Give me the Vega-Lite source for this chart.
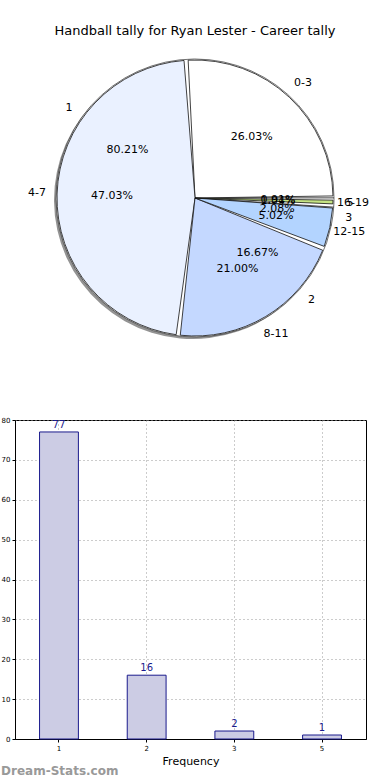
{
  "$schema": "https://vega.github.io/schema/vega-lite/v6.json",
  "background": "white",
  "padding": {"top": 25, "left": 0, "right": 0, "bottom": 0},
  "config": {"font": "DejaVu Sans", "view": {"stroke": null}},
  "datasets": {
    "ranges": [
      {"i": 0, "label": "0-3", "share": 0.2603},
      {"i": 1, "label": "4-7", "share": 0.4703},
      {"i": 2, "label": "8-11", "share": 0.2100},
      {"i": 3, "label": "12-15", "share": 0.0502},
      {"i": 4, "label": "16-19", "share": 0.0091}
    ],
    "freqs": [
      {"i": 0, "label": "1", "share": 0.8021},
      {"i": 1, "label": "2", "share": 0.1667},
      {"i": 2, "label": "3", "share": 0.0208},
      {"i": 3, "label": "5", "share": 0.0104}
    ],
    "bars": [
      {"freq": "1", "count": 77},
      {"freq": "2", "count": 16},
      {"freq": "3", "count": 2},
      {"freq": "5", "count": 1}
    ]
  },
  "spacing": 67,
  "vconcat": [
    {
      "width": 360,
      "height": 300,
      "title": {"text": "Handball tally for Ryan Lester - Career tally", "fontSize": 13, "fontWeight": "normal", "color": "black", "anchor": "middle", "offset": 10},
      "view": {"stroke": null},
      "encoding": {
        "theta": {"field": "share", "type": "quantitative", "stack": true, "scale": {"range": [1.5708, -4.7124]}},
        "order": {"field": "i", "type": "quantitative"}
      },
      "layer": [
        {
          "data": {"name": "freqs"},
          "mark": {"type": "arc", "outerRadius": 139, "fill": "#808080", "opacity": 0.85, "xOffset": -2, "yOffset": 2}
        },
        {
          "data": {"name": "freqs"},
          "mark": {"type": "arc", "outerRadius": 139, "fill": "white", "stroke": "#333333", "strokeWidth": 0.7}
        },
        {
          "data": {"name": "ranges"},
          "mark": {"type": "arc", "outerRadius": 138, "padAngle": 0.03, "stroke": "#111111", "strokeWidth": 0.8},
          "encoding": {"color": {"field": "label", "type": "nominal", "legend": null,
            "scale": {"domain": ["0-3", "4-7", "8-11", "12-15", "16-19"],
                      "range": ["#ffffff", "#eaf1ff", "#c4d8ff", "#b3d4ff", "#c5e384"]}}}
        },
        {
          "data": {"name": "freqs"},
          "mark": {"type": "text", "radius": 155, "fontSize": 11, "color": "black"},
          "encoding": {"text": {"field": "label", "type": "nominal"}}
        },
        {
          "data": {"name": "ranges"},
          "mark": {"type": "text", "radius": 158, "fontSize": 11, "color": "black"},
          "encoding": {"text": {"field": "label", "type": "nominal"}}
        },
        {
          "data": {"name": "freqs"},
          "mark": {"type": "text", "radius": 83, "fontSize": 11, "color": "black"},
          "encoding": {"text": {"field": "share", "type": "quantitative", "format": ".2%"}}
        },
        {
          "data": {"name": "ranges"},
          "mark": {"type": "text", "radius": 83, "fontSize": 11, "color": "black"},
          "encoding": {"text": {"field": "share", "type": "quantitative", "format": ".2%"}}
        }
      ]
    },
    {
      "width": 351,
      "height": 319,
      "data": {"name": "bars"},
      "view": {"stroke": "black", "strokeWidth": 1},
      "title": {"text": "Dream-Stats.com", "orient": "bottom", "anchor": "start", "frame": "bounds", "color": "#999999", "fontSize": 12, "fontWeight": "bold", "offset": 0},
      "encoding": {
        "x": {"field": "freq", "type": "ordinal", "scale": {"paddingInner": 0.557, "paddingOuter": 0.28},
          "axis": {"title": "Frequency", "titleFontSize": 11, "titleFontWeight": "normal", "titleColor": "black", "titlePadding": 4,
                   "labelAngle": 0, "labelFontSize": 7, "labelColor": "black", "bandPosition": 0.5,
                   "grid": true, "gridDash": [1, 3], "gridColor": "#999999", "tickSize": 3, "tickColor": "black", "domainColor": "black"}},
        "y": {"field": "count", "type": "quantitative", "scale": {"domain": [0, 80], "nice": false},
          "axis": {"title": null, "values": [0, 10, 20, 30, 40, 50, 60, 70, 80], "labelFontSize": 7, "labelColor": "black",
                   "grid": true, "gridDash": [1, 3], "gridColor": "#999999", "tickSize": 3, "tickColor": "black", "domainColor": "black"}}
      },
      "layer": [
        {"mark": {"type": "bar", "fill": "#ccccE4", "stroke": "#1a1a8c", "strokeWidth": 1}},
        {"mark": {"type": "text", "dy": -7, "fontSize": 10, "color": "#1a1a8c"},
         "encoding": {"text": {"field": "count", "type": "quantitative"}}}
      ]
    }
  ]
}
